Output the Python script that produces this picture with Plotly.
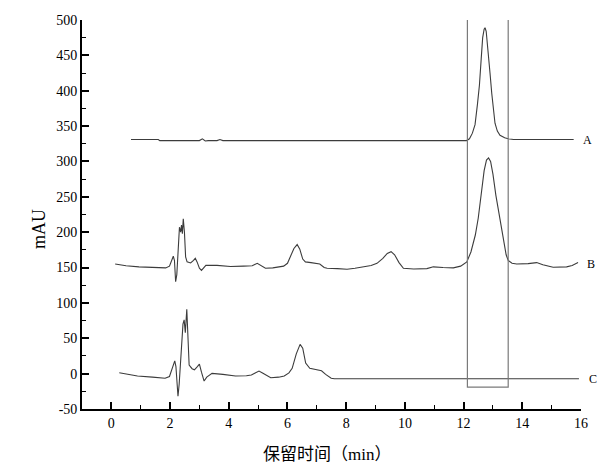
import plotly.graph_objects as go

# Trace A (retention time, mAU)
a_time = [0.67, 1.6, 1.65, 3.0, 3.1, 3.2, 3.3, 3.6, 3.7, 3.8, 12.1, 12.2, 12.3, 12.39, 12.47,
          12.54, 12.6, 12.65, 12.7, 12.73, 12.77, 12.84, 12.9, 12.96, 13.02, 13.07, 13.15,
          13.24, 13.4, 13.52, 13.7, 15.75]
a_mau = [331, 331, 329.5, 329.5, 332, 329, 329.5, 329.5, 331, 329.5, 329.5, 332, 340, 352, 380,
         408, 445, 475, 487, 489, 484, 457, 425, 396, 370, 354, 343,
         337, 333.5, 332, 331, 331]

# Trace B
b_time = [0.13, 0.5, 0.94, 1.4, 1.85, 1.98, 2.05, 2.11, 2.15, 2.19, 2.23, 2.28, 2.32, 2.36, 2.39,
          2.42, 2.45, 2.49, 2.53, 2.58, 2.7, 2.8, 2.86, 2.92, 3.0, 3.07, 3.14, 3.22, 3.6, 3.9,
          4.06, 4.5, 4.8, 4.97, 5.1, 5.25, 5.5, 5.87, 6.0, 6.1, 6.22, 6.33, 6.42, 6.52, 6.61,
          6.8, 7.0, 7.1, 7.25, 7.35, 7.7, 8.03, 8.3, 8.59, 8.85, 9.05, 9.25, 9.4, 9.53, 9.65,
          9.8, 9.95, 10.3, 10.75, 10.97, 11.3, 11.65, 11.9, 12.11, 12.25, 12.4, 12.5, 12.6,
          12.7, 12.78, 12.85, 12.92, 13.0, 13.1, 13.24, 13.35, 13.45, 13.52, 13.65, 13.81,
          14.2, 14.49, 14.7, 15.05, 15.51, 15.7, 15.9]
b_mau = [155, 152.5, 151, 150, 149.5, 152, 160, 166, 160, 130, 140, 185, 207, 200, 210,
         198, 219, 200, 165, 158, 156.5, 160, 163, 158, 149, 146, 150, 153, 153, 152,
         151.5, 152, 152.5, 156, 153, 149, 149.5, 152, 156, 165, 177, 182.5, 176, 162, 158,
         157, 156, 155, 150, 149, 148.5, 147.5, 149, 151, 153, 156, 163, 170, 172.5, 168,
         157, 149, 148, 148.5, 151, 150, 149.5, 152, 158, 172, 196, 220, 255,
         287, 302, 305, 300, 282, 252, 217, 187, 168, 160, 156, 155,
         155.5, 157, 154, 150.5, 151, 153, 157]

# Trace C
c_time = [0.27, 0.6, 0.89, 1.4, 1.83, 1.98, 2.08, 2.16, 2.2, 2.27, 2.31, 2.38, 2.44, 2.48, 2.52,
          2.57, 2.6, 2.65, 2.75, 2.83, 2.93, 3.0, 3.07, 3.16, 3.25, 3.43, 3.8, 4.23, 4.6, 4.77,
          4.9, 5.03, 5.15, 5.3, 5.43, 5.7, 5.89, 6.05, 6.16, 6.3, 6.43, 6.52, 6.62, 6.76, 7.0,
          7.16, 7.3, 7.49, 7.6, 15.93]
c_mau = [1.3, -1, -3.4, -5, -6.6, -4, 8, 18, 10, -32, -15, 25, 70, 76, 58,
         91, 60, 12, 7, 5.5, 10, 13.5, 2, -10.5, -5, 0.4, -1, -3.4, -3, -2,
         1, 3.7, 1, -3, -5.8, -5, -3.4, 1, 7.5, 28, 41.4, 36, 15, 7.5, 5.5,
         4, -1, -6.6, -7.2, -7.2]

labels = ["A", "B", "C"]
label_x = [16.0, 16.15, 16.2]
label_y = [330, 155, -7]

box_x = [12.13, 13.52]
box_y = [-19, 506]

x_range = [-1, 16]
y_range = [-50, 500]
x_ticks = list(range(0, 17, 2))
y_ticks = list(range(-50, 501, 50))

SERIF = "Liberation Serif"
CJK = "Liberation Serif, Noto Sans CJK SC"
LINE = "#3c3c3c"

fig = go.Figure()
for t, v in [(a_time, a_mau), (b_time, b_mau), (c_time, c_mau)]:
    fig.add_trace(go.Scatter(x=t, y=v, mode="lines",
                             line=dict(color=LINE, width=1.1), showlegend=False,
                             hoverinfo="skip"))

fig.add_shape(type="rect", xref="x", yref="y", x0=box_x[0], x1=box_x[1],
              y0=box_y[0], y1=box_y[1], line=dict(color="#7a7a7a", width=1.2))

# labels sit just right of the x-axis end, so place them in paper space
for lab, lx, ly in zip(labels, label_x, label_y):
    px = (lx - x_range[0]) / (x_range[1] - x_range[0])
    fig.add_annotation(x=px, y=ly, xref="paper", yref="y", text=lab, showarrow=False,
                       xanchor="left", yanchor="middle",
                       font=dict(family=SERIF, size=12, color="#000"))

fig.add_annotation(x=-0.11, y=0.463, xref="paper", yref="paper", text="mAU",
                   showarrow=False, textangle=-90,
                   font=dict(family=SERIF, size=18, color="#000"))
fig.add_annotation(x=0.49, y=-0.118, xref="paper", yref="paper", text="保留时间（min）",
                   showarrow=False, xanchor="center", yanchor="middle",
                   font=dict(family=CJK, size=17, color="#000"))

fig.update_layout(
    width=615, height=469,
    margin=dict(l=82, r=34, t=20, b=60),
    paper_bgcolor="white", plot_bgcolor="white",
    font=dict(family=SERIF, size=14, color="#000"),
    showlegend=False,
)
fig.update_xaxes(range=x_range, tickvals=x_ticks, ticktext=[str(v) for v in x_ticks],
                 ticks="inside", ticklen=7, tickwidth=1.5,
                 tickcolor="#000", showline=True, linecolor="#000", linewidth=1.8,
                 showgrid=False, zeroline=False,
                 minor=dict(dtick=1, tick0=0, ticks="inside", ticklen=4, tickwidth=1.2,
                            tickcolor="#000", showgrid=False),
                 tickfont=dict(family=SERIF, size=14))
fig.update_yaxes(range=y_range, tickvals=y_ticks, ticktext=[str(v) for v in y_ticks],
                 ticks="inside", ticklen=7, tickwidth=1.5,
                 tickcolor="#000", showline=True, linecolor="#000", linewidth=1.8,
                 showgrid=False, zeroline=False,
                 minor=dict(dtick=25, tick0=0, ticks="inside", ticklen=4, tickwidth=1.2,
                            tickcolor="#000", showgrid=False),
                 tickfont=dict(family=SERIF, size=14))

fig.write_html("out.html", config={"displayModeBar": False},
               post_script="document.body.style.margin='0';document.body.style.padding='0';")
